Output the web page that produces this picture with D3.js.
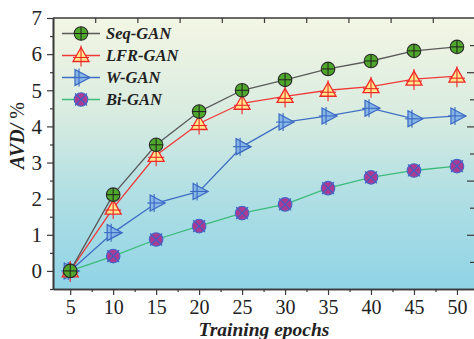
<!DOCTYPE html>
<html>
<head>
<meta charset="utf-8">
<script src="https://cdn.jsdelivr.net/npm/d3@7"></script>
<style>
  html, body { margin: 0; padding: 0; background: #ffffff; }
  svg { display: block; }
  text { font-family: "Liberation Serif", "Times New Roman", serif; fill: #222; }
</style>
</head>
<body>
<svg id="chart" width="474" height="339"></svg>
<script>
// Training epochs on the x axis
const epochs = [5, 10, 15, 20, 25, 30, 35, 40, 45, 50];

// AVD (%) per model
const seqGan = [0, 2.11, 3.49, 4.41, 5.0, 5.29, 5.59, 5.81, 6.09, 6.2];
const lfrGan = [0, 1.74, 3.2, 4.08, 4.64, 4.83, 5.0, 5.1, 5.31, 5.39];
const wGan   = [0, 1.06, 1.88, 2.2, 3.44, 4.12, 4.29, 4.5, 4.21, 4.29];
const biGan  = [0, 0.41, 0.87, 1.24, 1.6, 1.84, 2.29, 2.59, 2.78, 2.9];

const seriesNames = ["Seq-GAN", "LFR-GAN", "W-GAN", "Bi-GAN"];
const xTickValues = [5, 10, 15, 20, 25, 30, 35, 40, 45, 50];
const yTickValues = [0, 1, 2, 3, 4, 5, 6, 7];

const series = [
  { name: seriesNames[0], values: seqGan, line: "#5a5a5a", marker: "circleCross" },
  { name: seriesNames[1], values: lfrGan, line: "#f03a3a", marker: "triangle" },
  { name: seriesNames[2], values: wGan,   line: "#3f6fc4", marker: "rightTri" },
  { name: seriesNames[3], values: biGan,  line: "#3dbb7a", marker: "circleX" }
];

const svg = d3.select("#chart");
const plot = { left: 53, right: 475, top: 18, bottom: 289 };

const x = d3.scaleLinear().domain([3, 52.1]).range([plot.left, plot.right]);
const y = d3.scaleLinear().domain([-0.5, 7]).range([plot.bottom, plot.top]);
// mirrored frame scales for the top and right tick rows
const xTop = d3.scaleLinear().domain([0, 10]).range([plot.left, plot.right]);
const yRight = d3.scaleLinear().domain([0, 5]).range([plot.bottom, plot.top]);

// background gradient
const defs = svg.append("defs");
const grad = defs.append("linearGradient").attr("id", "bg")
  .attr("x1", 0).attr("y1", 0).attr("x2", 0).attr("y2", 1);
grad.append("stop").attr("offset", "0%").attr("stop-color", "#f3f6e4");
grad.append("stop").attr("offset", "35%").attr("stop-color", "#d9ece0");
grad.append("stop").attr("offset", "65%").attr("stop-color", "#b1dfe4");
grad.append("stop").attr("offset", "100%").attr("stop-color", "#8fd4e6");

svg.append("rect")
  .attr("x", plot.left).attr("y", plot.top)
  .attr("width", plot.right - plot.left).attr("height", plot.bottom - plot.top)
  .attr("fill", "url(#bg)");

const axisColor = "#3a3a3a";

// bottom axis: majors every 5, minors between
const gx = svg.append("g").attr("transform", `translate(0,${plot.bottom})`);
gx.call(d3.axisBottom(x).tickValues(xTickValues).tickSize(6).tickSizeOuter(0).tickPadding(5).tickFormat(d3.format("d")));
gx.append("g").call(d3.axisBottom(x).tickValues(d3.range(7.5, 50, 5)).tickSize(3).tickSizeOuter(0).tickFormat(""));
gx.selectAll("path").attr("stroke", axisColor).attr("stroke-width", 1.6);
gx.selectAll("line").attr("stroke", axisColor).attr("stroke-width", 1.2);
gx.selectAll("text").attr("font-size", 20).style("font-family", "Liberation Serif").attr("fill", "#222");

// left axis: majors every 1, minors at halves
const gy = svg.append("g").attr("transform", `translate(${plot.left},0)`);
gy.call(d3.axisLeft(y).tickValues(yTickValues).tickSize(6).tickSizeOuter(0).tickPadding(5).tickFormat(d3.format("d")));
gy.append("g").call(d3.axisLeft(y).tickValues(d3.range(-0.5, 7, 1)).tickSize(3).tickSizeOuter(0).tickFormat(""));
gy.selectAll("path").attr("stroke", axisColor).attr("stroke-width", 1.6);
gy.selectAll("line").attr("stroke", axisColor).attr("stroke-width", 1.2);
gy.selectAll("text").attr("font-size", 21).style("font-family", "Liberation Serif").attr("fill", "#222");

// top frame with inward ticks
const gt = svg.append("g").attr("transform", `translate(0,${plot.top})`);
gt.call(d3.axisBottom(xTop).tickValues(d3.range(1, 10)).tickSize(5).tickSizeOuter(0).tickFormat(""));
gt.select("path").remove();
gt.selectAll("line").attr("stroke", axisColor).attr("stroke-width", 1.2);
svg.append("line").attr("x1", plot.left).attr("x2", plot.right)
  .attr("y1", plot.top).attr("y2", plot.top).attr("stroke", axisColor).attr("stroke-width", 1.6);

// right frame with inward ticks
const gr = svg.append("g").attr("transform", `translate(${plot.right},0)`);
gr.call(d3.axisLeft(yRight).tickValues([1, 2, 3, 4]).tickSize(8).tickSizeOuter(0).tickFormat(""));
gr.append("g").call(d3.axisLeft(yRight).tickValues([0.5, 1.5, 2.5, 3.5, 4.5]).tickSize(5).tickSizeOuter(0).tickFormat(""));
gr.selectAll("path").attr("stroke", axisColor).attr("stroke-width", 1.6);
gr.selectAll("line").attr("stroke", axisColor).attr("stroke-width", 1.2);

// marker drawing
function drawMarker(g, type) {
  if (type === "circleCross") {
    g.append("circle").attr("r", 6.8).attr("fill", "#4fa82c").attr("stroke", "#2d2d2d").attr("stroke-width", 1.1);
    g.append("line").attr("x1", -6.8).attr("x2", 6.8).attr("stroke", "#1f1f1f").attr("stroke-width", 1);
    g.append("line").attr("y1", -6.8).attr("y2", 6.8).attr("stroke", "#1f1f1f").attr("stroke-width", 1);
  } else if (type === "triangle") {
    g.append("path").attr("d", "M0,-8 L8,6 L-8,6 Z")
      .attr("fill", "#ffe98a").attr("stroke", "#f02828").attr("stroke-width", 1.3);
    g.append("line").attr("x1", -8).attr("x2", 8).attr("y1", 2).attr("y2", 2).attr("stroke", "#f02828").attr("stroke-width", 1.1);
    g.append("line").attr("y1", -10).attr("y2", 11).attr("stroke", "#f02828").attr("stroke-width", 1.1);
  } else if (type === "rightTri") {
    g.append("path").attr("d", "M-6,-8 L9,0 L-6,8 Z")
      .attr("fill", "#86b6e6").attr("stroke", "#3a68c2").attr("stroke-width", 1.2);
    g.append("line").attr("x1", -9).attr("x2", 9).attr("stroke", "#3a68c2").attr("stroke-width", 1.1);
    g.append("line").attr("x1", -2).attr("x2", -2).attr("y1", -9).attr("y2", 9).attr("stroke", "#3a68c2").attr("stroke-width", 1.1);
  } else if (type === "circleX") {
    g.append("circle").attr("r", 6.8).attr("fill", "#a83c95").attr("stroke", "#4468c8").attr("stroke-width", 1.1);
    g.append("line").attr("x1", -6).attr("y1", -6).attr("x2", 6).attr("y2", 6).attr("stroke", "#3d5fc4").attr("stroke-width", 1.1);
    g.append("line").attr("x1", -6).attr("y1", 6).attr("x2", 6).attr("y2", -6).attr("stroke", "#3d5fc4").attr("stroke-width", 1.1);
  }
}

const line = d3.line().x(d => x(d[0])).y(d => y(d[1]));

// lines first, then markers on top (drawn bottom series first)
[...series].reverse().forEach(s => {
  const pts = epochs.map((e, i) => [e, s.values[i]]);
  svg.append("path").datum(pts).attr("d", line)
    .attr("fill", "none").attr("stroke", s.line).attr("stroke-width", 1.3);
});
[...series].reverse().forEach(s => {
  epochs.forEach((e, i) => {
    const g = svg.append("g").attr("transform", `translate(${x(e)},${y(s.values[i])})`);
    drawMarker(g, s.marker);
  });
});

// legend
const legend = svg.append("g");
series.forEach((s, i) => {
  const ly = 33.5 + i * 22;
  legend.append("line").attr("x1", 62).attr("x2", 100).attr("y1", ly).attr("y2", ly)
    .attr("stroke", s.line).attr("stroke-width", 1.5);
  drawMarker(legend.append("g").attr("transform", `translate(81,${ly})`), s.marker);
  legend.append("text").attr("x", 106).attr("y", ly + 5.5)
    .attr("font-size", 16.5).attr("font-weight", "bold").attr("font-style", "italic")
    .text(s.name);
});

// axis titles
svg.append("text")
  .attr("x", (plot.left + plot.right) / 2).attr("y", 336)
  .attr("text-anchor", "middle").attr("font-size", 19.5)
  .attr("font-weight", "bold").attr("font-style", "italic")
  .text("Training epochs");

const yt = svg.append("text")
  .attr("transform", `translate(24,${(plot.top + plot.bottom) / 2 - 18}) rotate(-90)`)
  .attr("text-anchor", "middle").attr("font-size", 20);
yt.append("tspan").attr("font-weight", "bold").attr("font-style", "italic").text("AVD/ ");
yt.append("tspan").text("%");
</script>
</body>
</html>
